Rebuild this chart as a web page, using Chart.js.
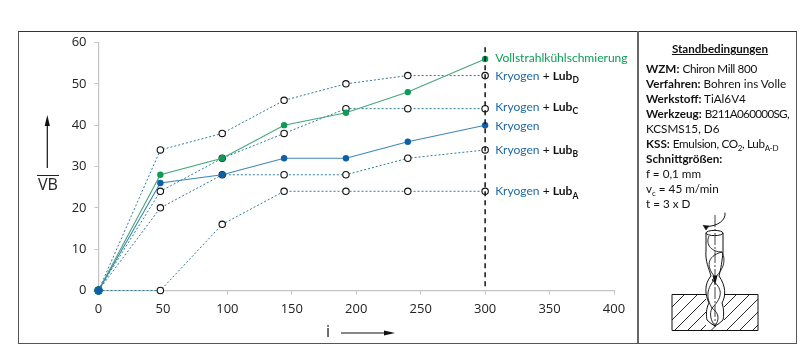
<!DOCTYPE html>
<html>
<head>
<meta charset="utf-8">
<script src="https://cdn.jsdelivr.net/npm/chart.js@4"></script>
<style>
  html, body { margin: 0; padding: 0; background: #fff; overflow: hidden; }
  #wrap { position: relative; width: 800px; height: 364px; }
  #chart { position: absolute; left: 0; top: 0; }
  #frame { position: absolute; left: 18px; top: 31px; width: 777px; height: 311px; border: 1.5px solid #555; border-top-color: #333; box-sizing: content-box; pointer-events: none; }
  #divider { position: absolute; left: 637px; top: 31px; width: 1.5px; height: 312px; background: #666; }
  #panel { position: absolute; left: 646px; top: 61px; width: 148px; font: 11.7px/15px Lato, sans-serif; color: #111; white-space: nowrap; }
  #panel sub { font-size: 8px; line-height: 0; }
  #panel .tight { letter-spacing: -0.35px; }
  #panel .tighter { letter-spacing: -0.7px; }
  #title { position: absolute; left: 640px; top: 41px; width: 160px; text-align: center; font: bold 11.6px/15px Lato, sans-serif; text-decoration: underline; color: #111; }
  #vb { position: absolute; left: 37px; top: 175px; font: 16px/16px "Open Sans", sans-serif; color: #222; border-top: 1.2px solid #222; padding: 0 1px; }
  #ilabel { position: absolute; left: 326px; top: 322px; font: 16px/18px "Open Sans", sans-serif; color: #222; }
  svg { position: absolute; left: 0; top: 0; pointer-events: none; }
</style>
</head>
<body>
<div id="wrap">
  <canvas id="chart" width="800" height="364"></canvas>
  <div id="frame"></div>
  <div id="divider"></div>
  <div id="title">Standbedingungen</div>
  <div id="panel">
    <b>WZM:</b> <span class="tight">Chiron Mill 800</span><br>
    <b>Verfahren:</b> Bohren ins Volle<br>
    <b>Werkstoff:</b> TiAl6V4<br>
    <b>Werkzeug:</b> <span class="tighter">B211A060000SG,</span><br>
    KCSMS15, D6<br>
    <b>KSS:</b> <span class="tight">Emulsion, CO<sub>2</sub>, Lub<sub>A-D</sub></span><br>
    <b>Schnittgrößen:</b><br>
    f = 0,1 mm<br>
    v<sub>c</sub> = 45 m/min<br>
    t = 3 x D
  </div>
  <div id="vb">VB</div>
  <div id="ilabel">i</div>
  <svg width="800" height="364" viewBox="0 0 800 364" fill="none" stroke="#111">
    <!-- axis arrows -->
    <path d="M47.3 168V122" stroke-width="1.2"/>
    <path d="M47.3 115l-2.6 11h5.2z" fill="#111" stroke="none"/>
    <path d="M341 333H386" stroke-width="1.2"/>
    <path d="M395 333l-11-2.6v5.2z" fill="#111" stroke="none"/>
    <!-- work piece -->
    <path d="M672 294.5H758V330.5H672Z" stroke-width="1"/>
    <path d="M672 307L684.5 294.5M672 320L697.500 294.5M674.500 330.5L706 299M687.500 330.5L706 312M700.500 330.5L706 325M711 330.500L715.500 326M724 307L736.500 294.5M724 320L749.500 294.5M726.500 330.5L758 299M739.500 330.5L758 312M752.500 330.5L758 325" stroke-width="0.9"/>
    <!-- drill -->
    <path d="M706 233V250C705 262 709 268 711 276C704 284 705 295 709 303C706 308 706 316 707 320Q711 324 715 326Q719 324 723 320C724 316 724 308 722 303C726 296 726 286 719 276C721 268 722 262 723 252V233" fill="#fff" stroke-width="1"/>
    <ellipse cx="714.500" cy="233" rx="8.5" ry="2.6" fill="#fff" stroke-width="1"/>
    <path d="M709 236C705 245 712 252 722 252M722 252C706 256 706 268 716 278M722 252C727 262 722 272 712 280M712 280C722 288 724 296 712 308M716 278C706 288 706 298 712 308M712 308C709 314 711 321 715 326M712 308C720 314 719 320 715 326" stroke-width="0.9"/>
    <path d="M715 215V327" stroke-width="0.8" stroke-dasharray="12 2 2 2"/>
    <path d="M725 212.700C726 220 718 226 707 226.500" stroke-width="1"/>
    <path d="M703 225.300L709 226L706 230z" fill="#111" stroke="#111" stroke-width="0.5"/>
    <path d="M715 285.500l-2.500-10h5z" fill="#111" stroke="none"/>
  </svg>
</div>
<script>
// Standweg in Bohrungen (i) against Verschleiss (VB)
const steps = [0, 48, 96, 144, 192, 240, 300];
const lubD = [0, 34, 38, 46, 50, 52, 52];
const lubC = [0, 24, 32, 38, 44, 44, 44];
const lubB = [0, 20, 28, 28, 28, 32, 34];
const lubA = [0, 0, 16, 24, 24, 24, 24];
const vollstrahl = [0, 28, 32, 40, 43, 48, 56];
const kryogen = [0, 26, 28, 32, 32, 36, 40];
const cutoffX = [300, 300];
const cutoffY = [1, 59];

const BLUE = '#1f69a6';
const GREEN = '#0c9c55';

const endLabels = [
  { y: 56.2, parts: [['Vollstrahlkühlschmierung', GREEN]] },
  { y: 51.9, parts: [['Kryogen', BLUE], [' + ', '#111'], ['Lub', '#111', 'b'], ['D', '#111', 's']] },
  { y: 44.4, parts: [['Kryogen', BLUE], [' + ', '#111'], ['Lub', '#111', 'b'], ['C', '#111', 's']] },
  { y: 39.7, parts: [['Kryogen', BLUE]] },
  { y: 34, parts: [['Kryogen', BLUE], [' + ', '#111'], ['Lub', '#111', 'b'], ['B', '#111', 's']] },
  { y: 24, parts: [['Kryogen', BLUE], [' + ', '#111'], ['Lub', '#111', 'b'], ['A', '#111', 's']] },
];

function pairs(xs, ys) {
  return ys.map((y, i) => ({ x: xs[i], y: y }));
}

function dotted(label, values) {
  return {
    label: label,
    data: pairs(steps, values),
    borderColor: '#2f7c9c',
    borderWidth: 1,
    borderDash: [2, 2],
    pointRadius: 3.2,
    pointBorderWidth: 1.1,
    pointBorderColor: '#111',
    pointBackgroundColor: '#fff',
    order: 5,
  };
}

function solid(label, values, lineColor, dotColor, order) {
  return {
    label: label,
    data: pairs(steps, values),
    borderColor: lineColor,
    borderWidth: 1.1,
    pointRadius: (ctx) => (ctx.dataIndex === 0 ? 4.2 : 3.2),
    pointBorderWidth: 0,
    pointBackgroundColor: dotColor,
    order: order,
  };
}

// series names at the end of the lines, with the Lub subscripts
const endLabelPlugin = {
  id: 'endLabels',
  afterDatasetsDraw(chart) {
    const c = chart.ctx;
    const x0 = chart.scales.x.getPixelForValue(300) + 10;
    c.save();
    c.textBaseline = 'middle';
    endLabels.forEach(function (row) {
      let x = x0;
      const y = chart.scales.y.getPixelForValue(row.y);
      row.parts.forEach(function (p) {
        const style = p[2] || '';
        c.font = (style ? 'bold ' : '') + (style === 's' ? '8.5px' : '12.05px') + ' Lato, sans-serif';
        c.fillStyle = p[1];
        c.fillText(p[0], x, style === 's' ? y + 4.5 : y);
        x += c.measureText(p[0]).width;
      });
    });
    c.restore();
  },
};

const datasets = [
  dotted('Kryogen + LubD', lubD),
  dotted('Kryogen + LubC', lubC),
  dotted('Kryogen + LubB', lubB),
  dotted('Kryogen + LubA', lubA),
  solid('Vollstrahlkühlschmierung', vollstrahl, '#45a878', GREEN, 3),
  solid('Kryogen', kryogen, '#3f87b4', '#0f5fa8', 2),
  {
    label: 'Grenze',
    data: pairs(cutoffX, cutoffY),
    borderColor: '#111',
    borderWidth: 1.5,
    borderDash: [5, 4],
    pointRadius: 0,
    order: 1,
  },
];

const axisColor = '#c4c4c4';
const tickFont = { family: '"Open Sans", sans-serif', size: 13 };

new Chart(document.getElementById('chart').getContext('2d'), {
  type: 'line',
  data: { datasets: datasets },
  plugins: [endLabelPlugin],
  options: {
    responsive: false,
    animation: false,
    clip: false,
    layout: { padding: { left: 48.5, right: 186, top: 42.5, bottom: 33.5 } },
    plugins: { legend: { display: false }, tooltip: { enabled: false } },
    scales: {
      x: {
        type: 'linear',
        min: 0,
        max: 400,
        afterFit: function (s) { s.height = 40; },
        ticks: { stepSize: 50, color: '#222', font: tickFont, maxRotation: 0, padding: 7 },
        grid: { drawOnChartArea: false, color: axisColor, tickLength: 4 },
        border: { color: axisColor, width: 1.2 },
      },
      y: {
        min: 0,
        max: 60,
        afterFit: function (s) { s.width = 50; },
        ticks: { stepSize: 10, color: '#222', font: tickFont, padding: 8 },
        grid: { drawOnChartArea: false, color: axisColor, tickLength: 4 },
        border: { color: axisColor, width: 1.2 },
      },
    },
  },
});
</script>
</body>
</html>
